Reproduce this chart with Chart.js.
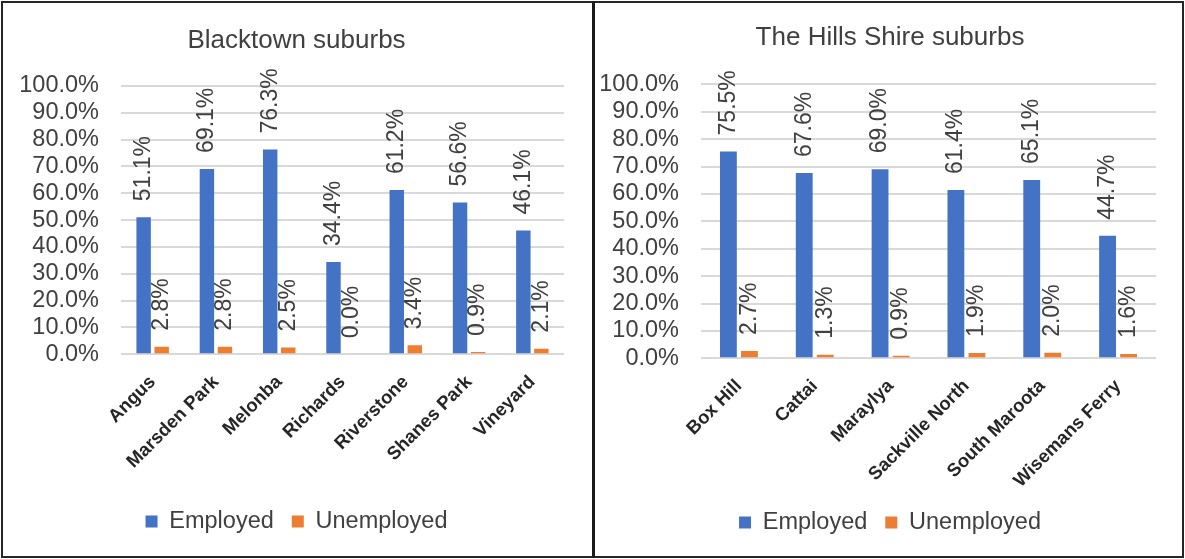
<!DOCTYPE html>
<html>
<head>
<meta charset="utf-8">
<script src="https://cdn.jsdelivr.net/npm/chart.js@4/dist/chart.umd.min.js"></script>
<style>
  body { margin: 0; background: #fff; }
  #page { position: relative; width: 1185px; height: 559px; overflow: hidden; }
  canvas { position: absolute; top: 0; }
  #left { left: 0; }
  #right { left: 595px; }
  .frame { position: absolute; left: 1px; top: 1px; width: 1183px; height: 557px; box-sizing: border-box; border: 2px solid #262626; pointer-events: none; }
  .divider { position: absolute; left: 592px; top: 1px; width: 3px; height: 557px; background: #1a1a1a; pointer-events: none; }
</style>
</head>
<body>
<div id="page">
  <canvas id="left" width="593" height="559"></canvas>
  <canvas id="right" width="590" height="559"></canvas>
  <div class="frame"></div>
  <div class="divider"></div>
</div>
<script>
const blacktownSuburbs = ["Angus", "Marsden Park", "Melonba", "Richards", "Riverstone", "Shanes Park", "Vineyard"]
const blacktownEmployed = [51.1, 69.1, 76.3, 34.4, 61.2, 56.6, 46.1]
const blacktownUnemployed = [2.8, 2.8, 2.5, 0.0, 3.4, 0.9, 2.1]

const hillsSuburbs = ["Box Hill", "Cattai", "Maraylya", "Sackville North", "South Maroota", "Wisemans Ferry"]
const hillsEmployed = [75.5, 67.6, 69.0, 61.4, 65.1, 44.7]
const hillsUnemployed = [2.7, 1.3, 0.9, 1.9, 2.0, 1.6]

const seriesNames = ["Employed", "Unemployed"]
const yTickValues = [0, 10, 20, 30, 40, 50, 60, 70, 80, 90, 100]

const employedColor = "#4472C4"
const unemployedColor = "#ED7D31"
const fontFamily = '"Liberation Sans", Arial, sans-serif'
const textColor = "#404040"

const valueLabels = {
    id: "valueLabels",
    afterDatasetsDraw(chart) {
        const ctx = chart.ctx
        ctx.save()
        ctx.font = "23px " + fontFamily
        ctx.fillStyle = textColor
        ctx.textAlign = "left"
        ctx.textBaseline = "middle"
        chart.data.datasets.forEach((dataset, i) => {
            chart.getDatasetMeta(i).data.forEach((bar, j) => {
                ctx.save()
                ctx.translate(bar.x, bar.y - 16)
                ctx.rotate(-Math.PI / 2)
                ctx.fillText(dataset.data[j].toFixed(1) + "%", 0, 0)
                ctx.restore()
            })
        })
        ctx.restore()
    }
}

function makeChart(canvas, title, labels, employed, unemployed, box) {
    return new Chart(canvas, {
        type: "bar",
        data: {
            labels: labels,
            datasets: [
                { label: seriesNames[0], data: employed, backgroundColor: employedColor },
                { label: seriesNames[1], data: unemployed, backgroundColor: unemployedColor },
            ],
        },
        plugins: [valueLabels],
        options: {
            responsive: false,
            animation: false,
            categoryPercentage: box.categoryPercentage,
            barPercentage: 0.8,
            layout: { padding: { left: 0, right: 0, top: 0, bottom: box.padBottom } },
            plugins: {
                title: {
                    display: true,
                    text: title,
                    color: textColor,
                    font: { family: fontFamily, size: 26, weight: "normal", lineHeight: 1.2 },
                    padding: { top: box.titleTop, bottom: box.titleBottom },
                },
                legend: {
                    position: "bottom",
                    labels: {
                        color: textColor,
                        boxWidth: 12,
                        boxHeight: 12,
                        padding: 18,
                        font: { family: fontFamily, size: 23.5 },
                    },
                },
                tooltip: { enabled: false },
            },
            scales: {
                x: {
                    grid: { display: false },
                    border: { display: false },
                    ticks: {
                        autoSkip: false,
                        maxRotation: 45,
                        minRotation: 45,
                        padding: 9,
                        color: "#262626",
                        font: { family: fontFamily, size: 18.5, weight: "bold" },
                    },
                    afterFit(scale) { scale.height = box.xHeight },
                },
                y: {
                    min: 0,
                    max: 100,
                    grid: { color: "#d9d9d9", lineWidth: 2, drawTicks: false },
                    border: { display: false },
                    afterBuildTicks(scale) { scale.ticks = yTickValues.map(v => ({ value: v })) },
                    ticks: {
                        autoSkip: false,
                        padding: 22,
                        color: textColor,
                        font: { family: fontFamily, size: 23.5 },
                        callback: value => value.toFixed(1) + "%",
                    },
                    afterFit(scale) { scale.width = box.yWidth },
                },
                spacer: {
                    type: "linear",
                    position: "right",
                    grid: { display: false },
                    border: { display: false },
                    ticks: { display: false },
                    afterFit(scale) { scale.width = box.rightGap },
                },
            },
        },
    })
}

makeChart(document.getElementById("left"), "Blacktown suburbs",
    blacktownSuburbs, blacktownEmployed, blacktownUnemployed,
    { categoryPercentage: 0.57, rightGap: 29, padBottom: 15.75, titleTop: 25, titleBottom: 29.8, xHeight: 137.45, yWidth: 121 })

makeChart(document.getElementById("right"), "The Hills Shire suburbs",
    hillsSuburbs, hillsEmployed, hillsUnemployed,
    { categoryPercentage: 0.555, rightGap: 29, padBottom: 14.75, titleTop: 22.5, titleBottom: 30.6, xHeight: 134.45, yWidth: 106 })
</script>
</body>
</html>
